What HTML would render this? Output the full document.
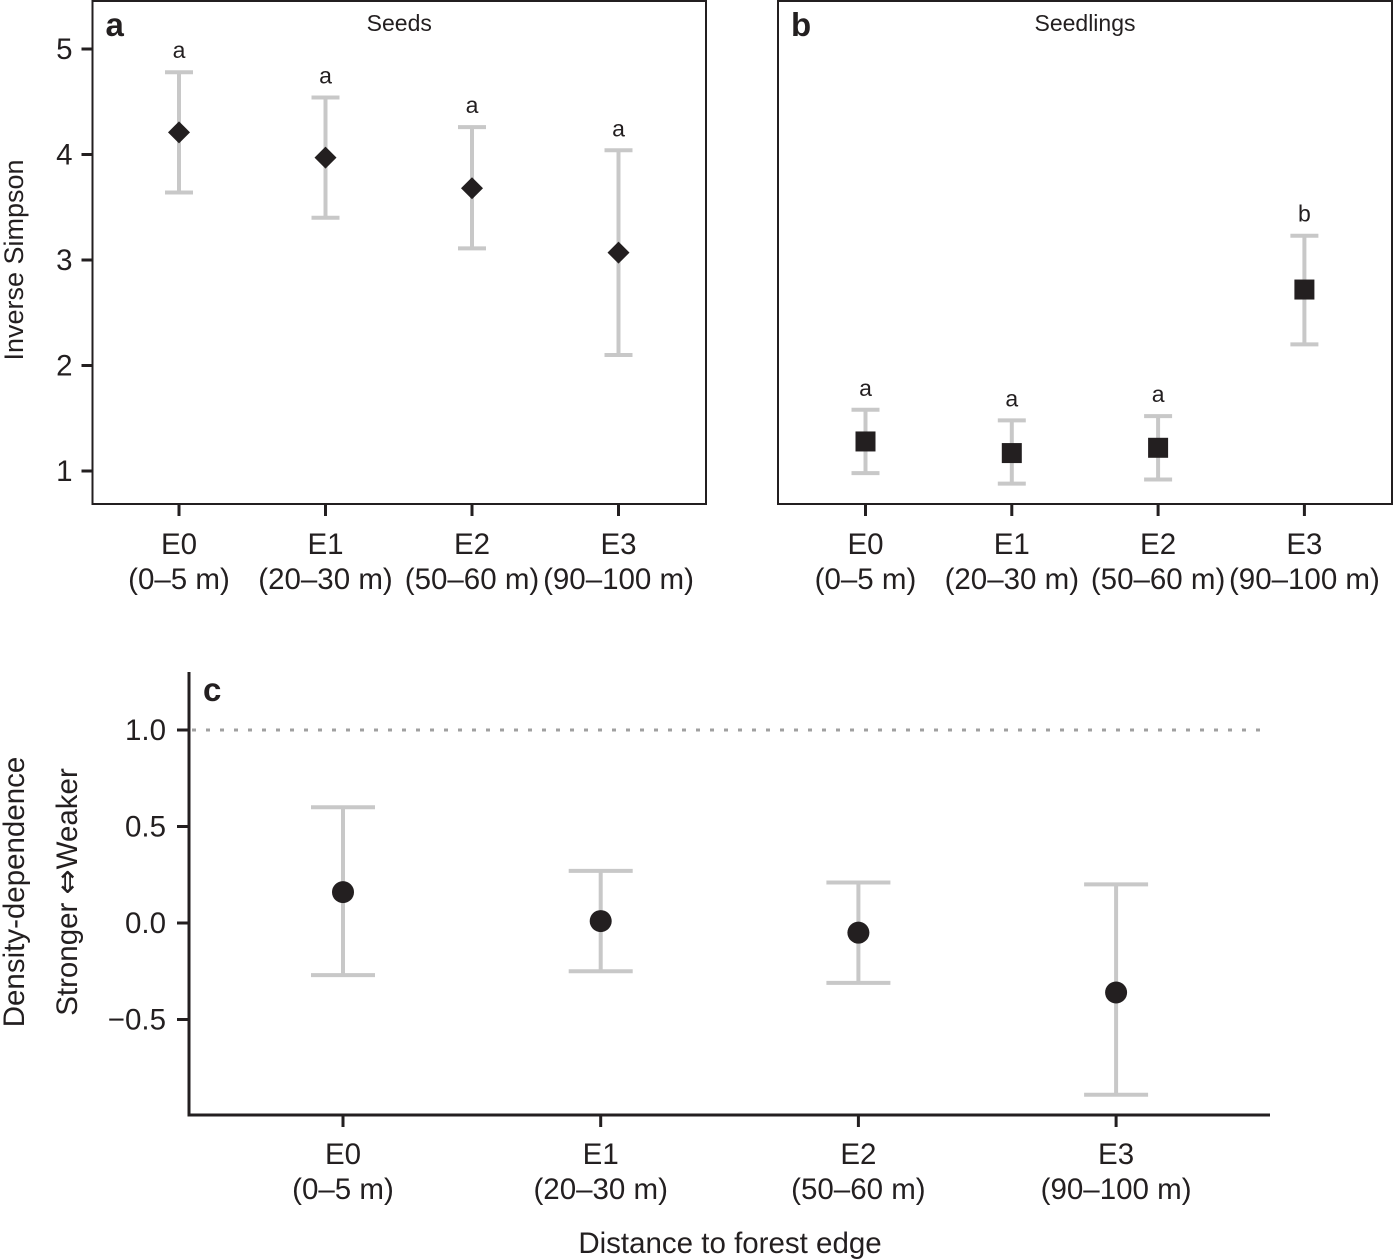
<!DOCTYPE html>
<html><head><meta charset="utf-8"><style>
body{margin:0;background:#fff}
svg{display:block;font-family:"Liberation Sans",Arial,sans-serif}
</style></head><body>
<svg id="fig" width="1393" height="1260" xmlns="http://www.w3.org/2000/svg"></svg>
<script>
const categories=["E0","E1","E2","E3"];
const ranges=["(0–5 m)","(20–30 m)","(50–60 m)","(90–100 m)"];
const seedMean=[4.21,3.97,3.68,3.07];
const seedHi=[4.78,4.54,4.26,4.04];
const seedLo=[3.64,3.40,3.11,2.10];
const seedLetters=["a","a","a","a"];
const sdlMean=[1.28,1.17,1.22,2.72];
const sdlHi=[1.58,1.48,1.52,3.23];
const sdlLo=[0.98,0.88,0.92,2.20];
const sdlLetters=["a","a","a","b"];
const ddMean=[0.16,0.01,-0.05,-0.36];
const ddHi=[0.60,0.27,0.21,0.20];
const ddLo=[-0.27,-0.25,-0.31,-0.89];
const yTicksAB=[1,2,3,4,5];
const yTicksC=[1.0,0.5,0.0,-0.5];
const yTickLabelsC=["1.0","0.5","0.0","−0.5"];

const svg=document.getElementById('fig');
const NS="http://www.w3.org/2000/svg";
function el(tag,attrs,parent,text){const e=document.createElementNS(NS,tag);for(const k in attrs)e.setAttribute(k,attrs[k]);if(text!==undefined)e.textContent=text;(parent||svg).appendChild(e);return e;}

const yAB=v=>471-(v-1)*105.5;
const xA=i=>179+i*146.5;
const xB=i=>865.5+i*146.3;
const yC=v=>923-v*193;
const xC=i=>343+i*257.7;
const FS=29.5;

function panel(name,x0,x1,xf,mean,hi,lo,letters,shape,label,title,showY){
  const g=el('g',{});
  
  
  const fr=el('rect',{x:x0,y:1,width:x1-x0,height:503,fill:'none',stroke:'#231f20','stroke-width':2},g);
  
  const pl=el('text',{x:x0+13,y:36,'font-size':33,'font-weight':'bold',fill:'#231f20'},g,label);
  
  const tt=el('text',{x:(x0+x1)/2,y:31,'font-size':23,'text-anchor':'middle',fill:'#231f20'},g,title);
  
  if(showY){
    yTicksAB.forEach(t=>{
      const tk=el('line',{x1:x0-11,x2:x0,y1:yAB(t),y2:yAB(t),stroke:'#231f20','stroke-width':3},g);
      
      const tl=el('text',{x:x0-20,y:yAB(t)+10,'font-size':FS,'text-anchor':'end',fill:'#231f20'},g,String(t));
      
    });
  }
  categories.forEach((c,i)=>{
    const x=xf(i);
    const tk=el('line',{x1:x,x2:x,y1:504,y2:516,stroke:'#231f20','stroke-width':3},g);
    
    const t1=el('text',{x:x,y:554,'font-size':FS,'text-anchor':'middle',fill:'#231f20'},g,c);
    
    const t2=el('text',{x:x,y:589,'font-size':FS,'text-anchor':'middle',fill:'#231f20'},g,ranges[i]);
    
    const eb=el('path',{d:`M${x-14},${yAB(hi[i])}H${x+14}M${x},${yAB(hi[i])}V${yAB(lo[i])}M${x-14},${yAB(lo[i])}H${x+14}`,stroke:'#c8c8c8','stroke-width':4,fill:'none'},g);
    
    const y=yAB(mean[i]);
    let m;
    if(shape==='diamond') m=el('path',{d:`M${x},${y-11}L${x+11},${y}L${x},${y+11}L${x-11},${y}Z`,fill:'#231f20'},g);
    else m=el('rect',{x:x-10,y:y-10,width:20,height:20,fill:'#231f20'},g);
    
    const lt=el('text',{x:x,y:yAB(hi[i])-14,'font-size':23,'text-anchor':'middle',fill:'#231f20'},g,letters[i]);
    
  });
}
panel('panel-a-seeds',92.5,706,xA,seedMean,seedHi,seedLo,seedLetters,'diamond','a','Seeds',true);
panel('panel-b-seedlings',778,1392,xB,sdlMean,sdlHi,sdlLo,sdlLetters,'square','b','Seedlings',false);
const ya=el('text',{x:0,y:0,'font-size':27,'text-anchor':'middle',fill:'#231f20',transform:`translate(23,${yAB(3)}) rotate(-90)`},svg,'Inverse Simpson');


// panel c
const gc=el('g',{});


const ax=el('path',{d:'M189,672V1115H1270',stroke:'#231f20','stroke-width':3,fill:'none'},gc);

const ref=el('line',{x1:192,x2:1270,y1:yC(1),y2:yC(1),stroke:'#a0a0a0','stroke-width':3,'stroke-dasharray':'4,10'},gc);

const pc=el('text',{x:203,y:701,'font-size':33,'font-weight':'bold',fill:'#231f20'},gc,'c');

yTicksC.forEach((t,i)=>{
  const tk=el('line',{x1:177,x2:189,y1:yC(t),y2:yC(t),stroke:'#231f20','stroke-width':3},gc);
  
  const tl=el('text',{x:166,y:yC(t)+10,'font-size':FS,'text-anchor':'end',fill:'#231f20'},gc,yTickLabelsC[i]);
  
});
categories.forEach((c,i)=>{
  const x=xC(i);
  const tk=el('line',{x1:x,x2:x,y1:1115,y2:1127,stroke:'#231f20','stroke-width':3},gc);
  
  const t1=el('text',{x:x,y:1164,'font-size':FS,'text-anchor':'middle',fill:'#231f20'},gc,c);
  
  const t2=el('text',{x:x,y:1199,'font-size':FS,'text-anchor':'middle',fill:'#231f20'},gc,ranges[i]);
  
  const eb=el('path',{d:`M${x-32},${yC(ddHi[i])}H${x+32}M${x},${yC(ddHi[i])}V${yC(ddLo[i])}M${x-32},${yC(ddLo[i])}H${x+32}`,stroke:'#c8c8c8','stroke-width':4,fill:'none'},gc);
  
  const m=el('circle',{cx:x,cy:yC(ddMean[i]),r:11,fill:'#231f20'},gc);
  
});
const xt=el('text',{x:730,y:1253,'font-size':FS,'text-anchor':'middle',fill:'#231f20'},gc,'Distance to forest edge');

const yt1=el('text',{x:0,y:0,'font-size':FS,'text-anchor':'middle',fill:'#231f20',transform:'translate(24,892) rotate(-90)'},gc,'Density-dependence');

const yt2=el('text',{x:0,y:0,'font-size':FS,'text-anchor':'middle',fill:'#231f20',transform:'translate(77,892) rotate(-90)'},gc);

el('tspan',{},yt2,'Stronger ');
el('tspan',{'font-family':'"DejaVu Sans",sans-serif','font-size':30},yt2,'⇔');
el('tspan',{},yt2,'Weaker');
</script>
</body></html>
